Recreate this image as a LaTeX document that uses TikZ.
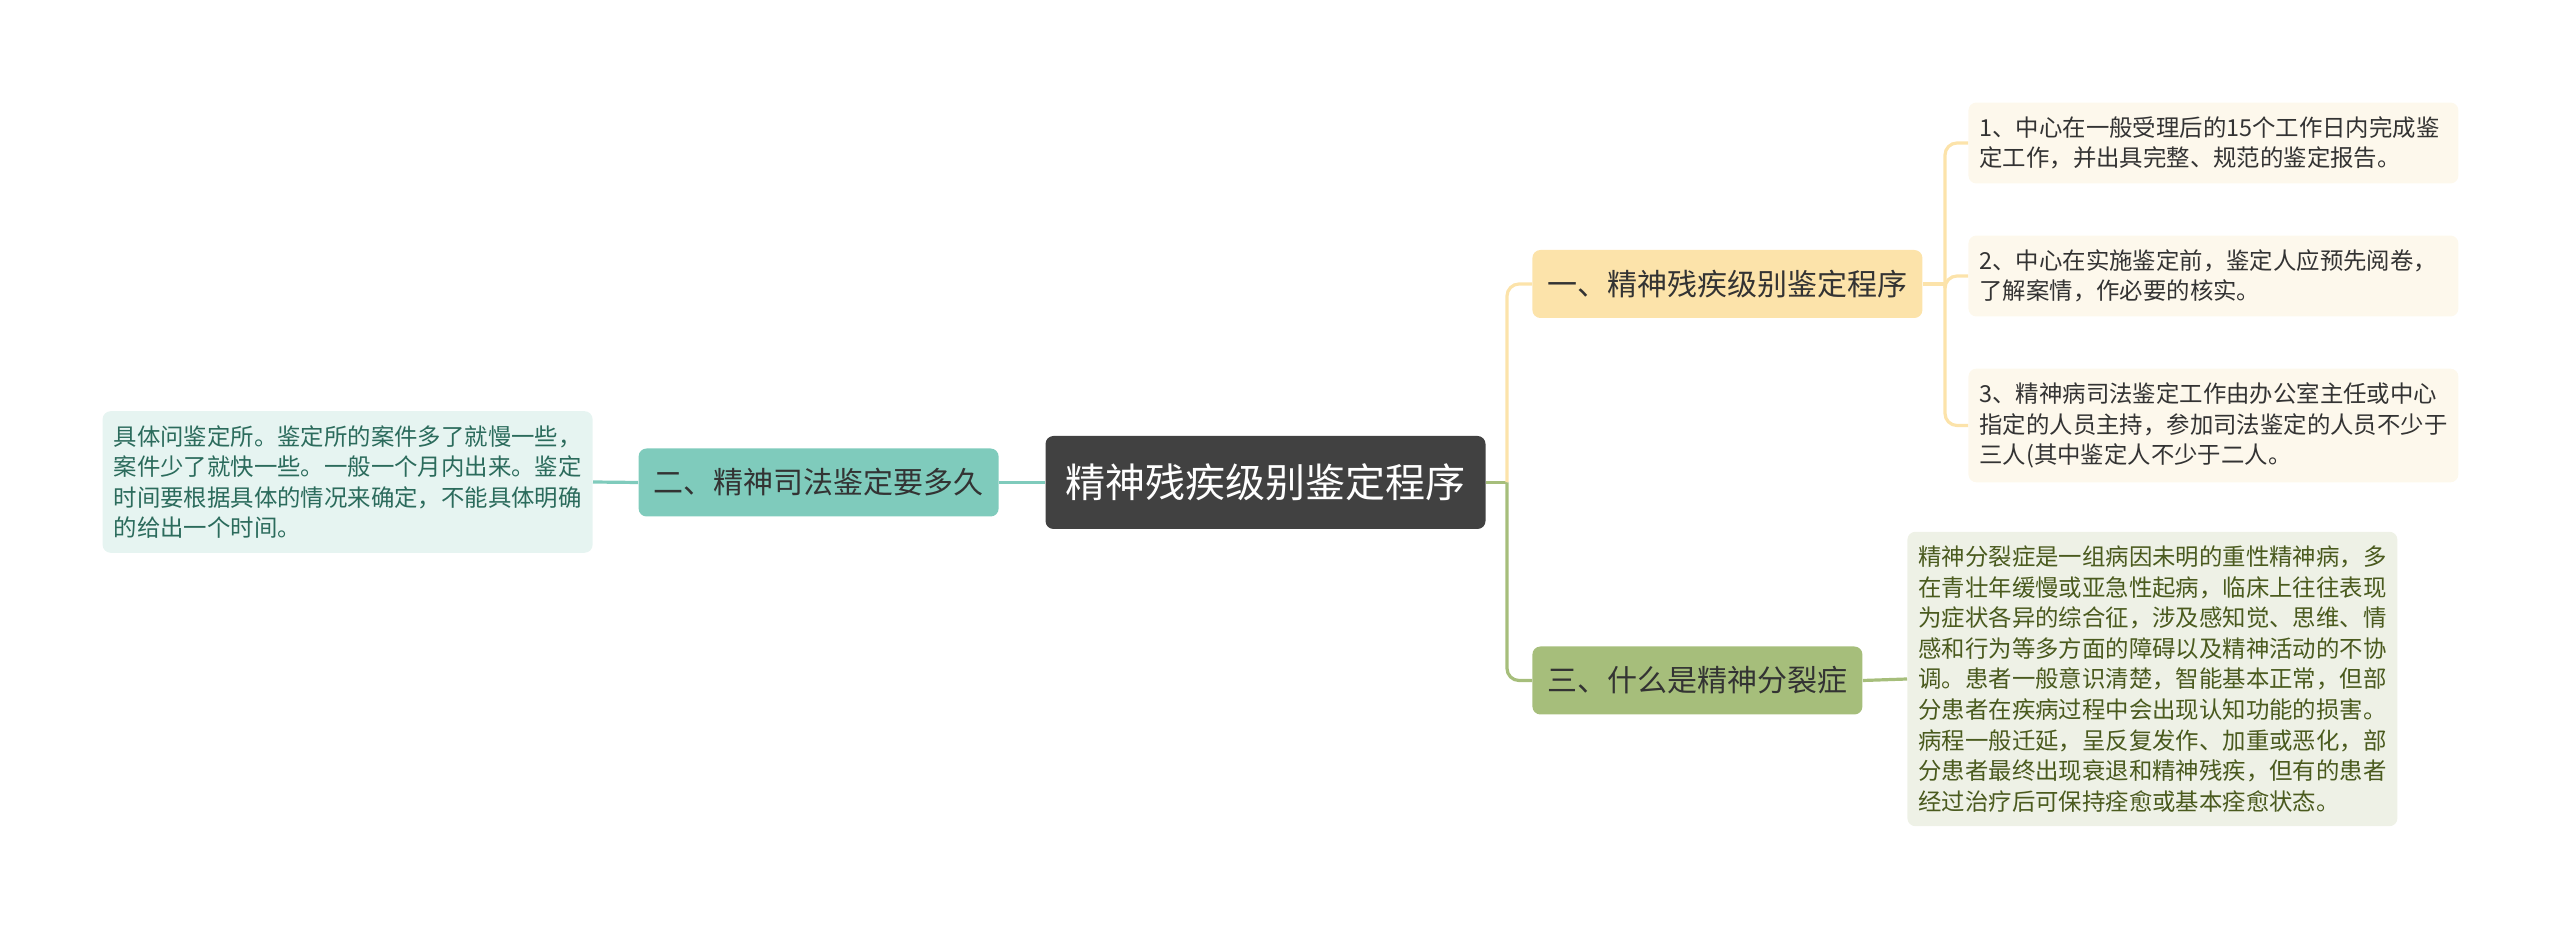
\documentclass[tikz,border=0pt]{standalone}
\usepackage{fontspec}
\setmainfont{Noto Sans CJK SC}
\definecolor{rootgray}{HTML}{414141}
\definecolor{inkdark}{HTML}{333333}
\definecolor{sandfill}{HTML}{FCE3AA}
\definecolor{sandleaf}{HTML}{FDF8EC}
\definecolor{tealfill}{HTML}{7FCBBC}
\definecolor{tealleaf}{HTML}{E6F4F1}
\definecolor{tealink}{HTML}{2B6B5C}
\definecolor{sagefill}{HTML}{A6BE7B}
\definecolor{sageleaf}{HTML}{EEF1E6}
\definecolor{sageink}{HTML}{4A5A1E}
\begin{document}
\begin{tikzpicture}[
        x=0.5pt, y=-0.5pt,
        root/.style={fill=rootgray, text=white, rounded corners=4pt,
            inner xsep=10pt, minimum height=46.5pt,
            font=\fontsize{20pt}{24pt}\selectfont},
        topic/.style={rounded corners=4pt, text=inkdark, inner xsep=7.5pt,
            minimum height=34pt, font=\fontsize{15pt}{18pt}\selectfont},
        leaf/.style={rounded corners=4pt, align=left, text width=234pt,
            inner xsep=5.5pt, inner ysep=7pt,
            font=\fontsize{11.7pt}{15.3pt}\selectfont},
        link/.style={line width=1.6pt}
    ]
        \useasboundingbox (0,0) rectangle (2560,929);
        \node[root] (root) at (1265.5,482.5) {精神残疾级别鉴定程序};
        \node[topic, fill=sandfill, anchor=west] (t1) at (1532,284)
            {一、精神残疾级别鉴定程序};
        \node[topic, fill=tealfill, anchor=east] (t2) at (999,482.5)
            {二、精神司法鉴定要多久};
        \node[topic, fill=sagefill, anchor=west] (t3) at (1532,680.5)
            {三、什么是精神分裂症};
        \node[leaf, fill=sandleaf, text=inkdark, anchor=west] (n11) at (1968,143)
            {1、中心在一般受理后的15个工作日内完成鉴\\定工作，并出具完整、规范的鉴定报告。};
        \node[leaf, fill=sandleaf, text=inkdark, anchor=west] (n12) at (1968,276)
            {2、中心在实施鉴定前，鉴定人应预先阅卷，\\了解案情，作必要的核实。};
        \node[leaf, fill=sandleaf, text=inkdark, anchor=west] (n13) at (1968,425.5)
            {3、精神病司法鉴定工作由办公室主任或中心\\指定的人员主持，参加司法鉴定的人员不少于\\三人(其中鉴定人不少于二人。};
        \node[leaf, fill=tealleaf, text=tealink, anchor=east] (n21) at (593,482)
            {具体问鉴定所。鉴定所的案件多了就慢一些，\\案件少了就快一些。一般一个月内出来。鉴定\\时间要根据具体的情况来确定，不能具体明确\\的给出一个时间。};
        \node[leaf, fill=sageleaf, text=sageink, anchor=west] (n31) at (1907,679)
            {精神分裂症是一组病因未明的重性精神病，多\\在青壮年缓慢或亚急性起病，临床上往往表现\\为症状各异的综合征，涉及感知觉、思维、情\\感和行为等多方面的障碍以及精神活动的不协\\调。患者一般意识清楚，智能基本正常，但部\\分患者在疾病过程中会出现认知功能的损害。\\病程一般迁延，呈反复发作、加重或恶化，部\\分患者最终出现衰退和精神残疾，但有的患者\\经过治疗后可保持痊愈或基本痊愈状态。};
        \coordinate (hubR) at (1507,482.5);
        \coordinate (hubT) at (1945,284);
        \draw[link, tealfill] (root.west) -- (t2.east);
        \draw[link, tealfill] (t2.west) -- (n21.east);
        \draw[link, sagefill] (root.east) -- (hubR);
        \draw[link, sandfill, rounded corners=6pt] (hubR) |- (t1.west);
        \draw[link, sagefill, rounded corners=6pt] (hubR) |- (t3.west);
        \draw[link, sagefill] (t3.east) -- (n31.west);
        \draw[link, sandfill] (t1.east) -- (hubT);
        \draw[link, sandfill, rounded corners=6pt] (hubT) |- (n11.west);
        \draw[link, sandfill, rounded corners=6pt] (hubT) |- (n12.west);
        \draw[link, sandfill, rounded corners=6pt] (hubT) |- (n13.west);
    \end{tikzpicture}
\end{document}
